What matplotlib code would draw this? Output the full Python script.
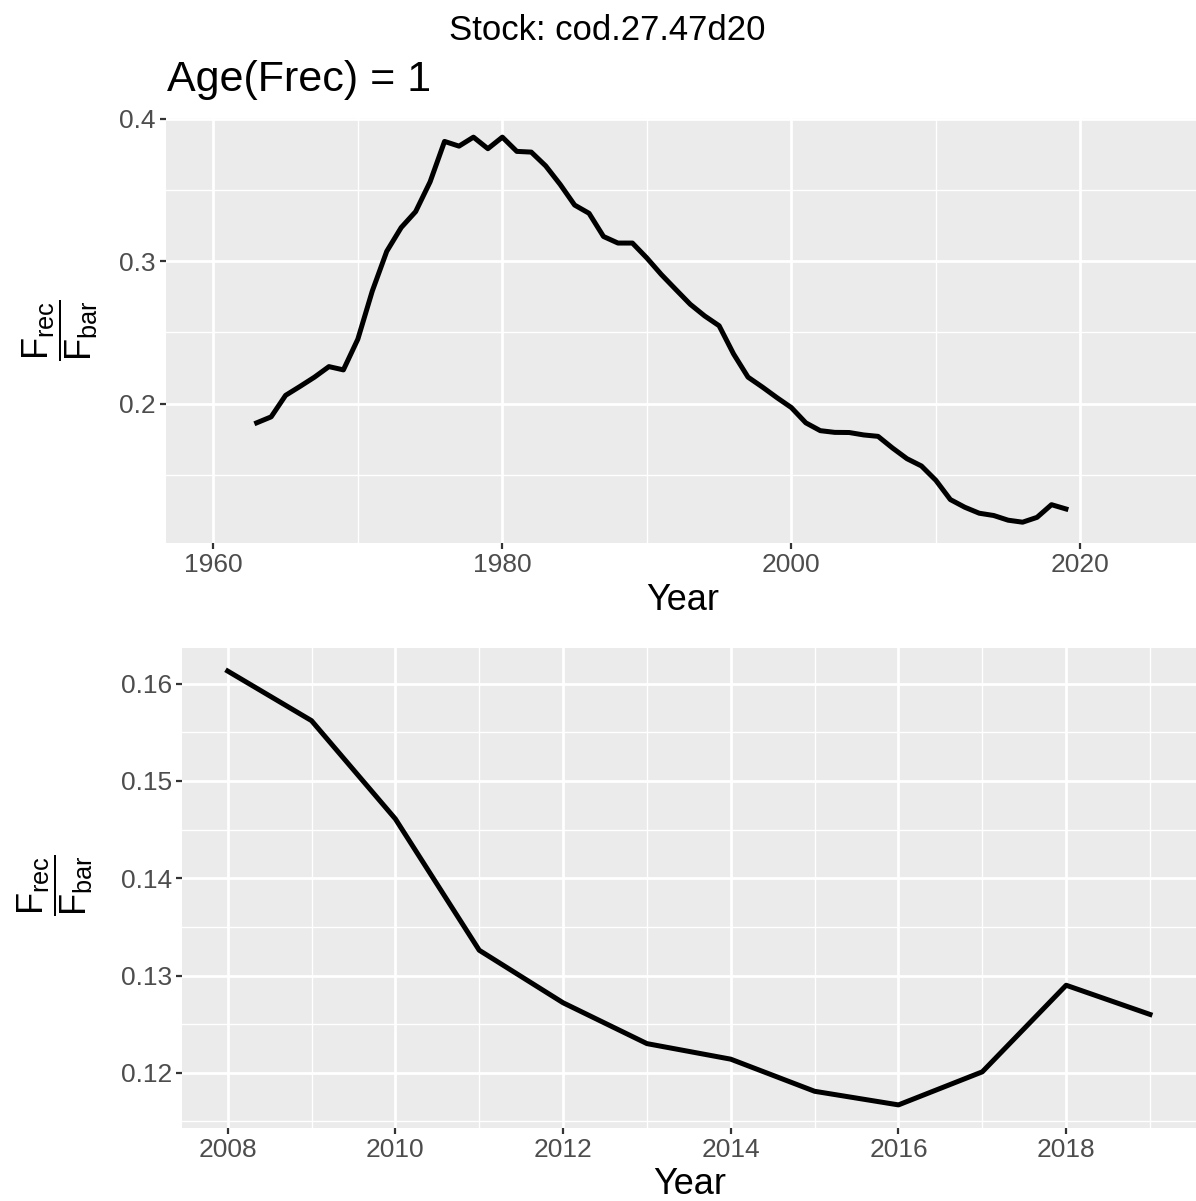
import numpy as np
import matplotlib
matplotlib.use("Agg")
from matplotlib import pyplot as plt
from matplotlib.ticker import MultipleLocator

# dados
anos = list(range(1963, 2020))
razao = [0.1865, 0.1907, 0.2058, 0.2121, 0.2186, 0.2260, 0.2237, 0.2453, 0.2791, 0.3070,
         0.3237, 0.3349, 0.3558, 0.3842, 0.3809, 0.3872, 0.3791, 0.3872, 0.3772, 0.3767,
         0.3670, 0.3540, 0.3395, 0.3337, 0.3174, 0.3128, 0.3128, 0.3023, 0.2907, 0.2802,
         0.2698, 0.2616, 0.2547, 0.2349, 0.2186, 0.2116, 0.2042, 0.1972, 0.1865, 0.1810,
         0.1798, 0.1797, 0.1780, 0.1770, 0.1688,
         0.1613, 0.1562, 0.1461, 0.1326, 0.1272, 0.1230, 0.1214, 0.1181, 0.1167, 0.1201,
         0.1290, 0.1260]

anos_rec = list(range(2008, 2020))
razao_rec = razao[-12:]

titulo = "Stock: cod.27.47d20"
subtitulo = "Age(Frec) = 1"

plt.rcParams['font.family'] = ['Liberation Sans', 'DejaVu Sans']
plt.rcParams['mathtext.fontset'] = 'custom'
plt.rcParams['mathtext.rm'] = 'Liberation Sans'
plt.rcParams['mathtext.it'] = 'Liberation Sans'

fundo = '#EBEBEB'
cinza = '#4D4D4D'
rotulo_y = r'$\dfrac{\mathrm{F}_{\mathrm{rec}}}{\mathrm{F}_{\mathrm{bar}}}$'


def estilo_gg(ax):
    ax.set_facecolor(fundo)
    for s in ax.spines.values():
        s.set_visible(False)
    ax.grid(which='major', color='white', linewidth=2.0)
    ax.grid(which='minor', color='white', linewidth=1.0)
    ax.set_axisbelow(True)
    ax.tick_params(which='major', length=4, width=1.6, color='#333333',
                   labelsize=19, labelcolor=cinza, pad=3)
    ax.tick_params(which='minor', length=0)


fig = plt.figure(figsize=(11.96, 12.01), dpi=100)

# painel de cima: serie completa
ax1 = fig.add_axes([0.1385, 0.5479, 0.8615, 0.3539])
ax1.plot(anos, razao, color='black', linewidth=3.6)
ax1.set_xlim(1956.7, 2028.0)
ax1.set_ylim(0.1021, 0.4007)
ax1.xaxis.set_major_locator(MultipleLocator(20))
ax1.xaxis.set_minor_locator(MultipleLocator(10))
ax1.set_yticks([0.2, 0.3, 0.4])
ax1.set_yticklabels(['0.2', '0.3', '0.4'])
ax1.yaxis.set_minor_locator(MultipleLocator(0.05))
estilo_gg(ax1)

# painel de baixo: ultimos anos
ax2 = fig.add_axes([0.1518, 0.0605, 0.8483, 0.4002])
ax2.plot(anos_rec, razao_rec, color='black', linewidth=3.6)
ax2.set_xlim(2007.45, 2019.55)
ax2.set_ylim(0.11429, 0.1637)
ax2.xaxis.set_major_locator(MultipleLocator(2))
ax2.xaxis.set_minor_locator(MultipleLocator(1))
ax2.set_yticks([0.12, 0.13, 0.14, 0.15, 0.16])
ax2.set_yticklabels(['0.12', '0.13', '0.14', '0.15', '0.16'])
ax2.yaxis.set_minor_locator(MultipleLocator(0.005))
estilo_gg(ax2)

# textos
fig.text(0.5075, 1 - 30 / 1201, titulo, ha='center', va='center', fontsize=25)
fig.text(167 / 1196, 1 - 80 / 1201, subtitulo, ha='left', va='center', fontsize=31)
fig.text(683 / 1196, 1 - 601 / 1201, 'Year', ha='center', va='center', fontsize=26)
fig.text(690 / 1196, 1 - 1185 / 1201, 'Year', ha='center', va='center', fontsize=26)
fig.text(60 / 1196, 1 - 330 / 1201, rotulo_y, rotation=90, ha='center', va='center', fontsize=26)
fig.text(55 / 1196, 1 - 885 / 1201, rotulo_y, rotation=90, ha='center', va='center', fontsize=26)

fig.savefig('out.png', dpi=100)
